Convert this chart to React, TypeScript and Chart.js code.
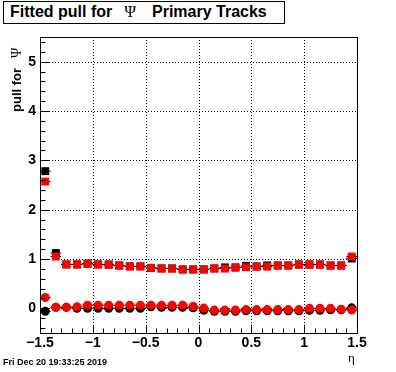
import React, { useEffect, useRef } from 'react';
import { Chart, registerables } from 'chart.js';

Chart.register(...registerables);

// eta bin centres (bin width 0.1)
const etaCenters = [
  -1.45, -1.35, -1.25, -1.15, -1.05, -0.95, -0.85, -0.75, -0.65, -0.55,
  -0.45, -0.35, -0.25, -0.15, -0.05, 0.05, 0.15, 0.25, 0.35, 0.45,
  0.55, 0.65, 0.75, 0.85, 0.95, 1.05, 1.15, 1.25, 1.35, 1.45,
];
const halfBin = 0.05;

// sigma of pull (squares)
const blackSigma = [
  2.78, 1.12, 0.89, 0.89, 0.91, 0.89, 0.89, 0.87, 0.85, 0.85,
  0.82, 0.81, 0.81, 0.79, 0.79, 0.79, 0.81, 0.83, 0.83, 0.86,
  0.85, 0.87, 0.87, 0.87, 0.89, 0.89, 0.89, 0.87, 0.87, 1.01,
];
const redSigma = [
  2.57, 1.05, 0.89, 0.89, 0.9, 0.89, 0.88, 0.865, 0.85, 0.85,
  0.82, 0.805, 0.805, 0.785, 0.785, 0.785, 0.805, 0.805, 0.825, 0.835,
  0.845, 0.845, 0.865, 0.865, 0.885, 0.885, 0.885, 0.865, 0.865, 1.05,
];
// mean of pull (circles)
const blackMean = [
  -0.06, 0.02, 0.02, 0.0, 0.0, 0.0, 0.0, 0.0, 0.0, 0.0,
  0.03, 0.02, 0.02, 0.02, 0.01, -0.04, -0.06, -0.06, -0.06, -0.05,
  -0.05, -0.05, -0.05, -0.05, -0.05, -0.04, -0.04, -0.03, -0.03, 0.01,
];
const redMean = [
  0.22, 0.02, 0.02, 0.03, 0.065, 0.065, 0.065, 0.065, 0.065, 0.065,
  0.065, 0.06, 0.06, 0.065, 0.04, 0.005, -0.035, -0.035, -0.035, -0.025,
  -0.025, -0.025, -0.025, -0.025, -0.025, 0.0, 0.0, 0.0, -0.02, -0.035,
];

const xTickValues = [-1.5, -1, -0.5, 0, 0.5, 1, 1.5];
const yTickValues = [0, 1, 2, 3, 4, 5];
const xGridValues = [-1, -0.5, 0, 0.5, 1];
const yGridValues = [0, 1, 2, 3, 4, 5];

const SANS = '"Liberation Sans", Arial, sans-serif';
const SERIF = '"Liberation Serif", "Times New Roman", serif';

function points(vals: number[]) {
  return etaCenters.map((x, i) => ({ x, y: vals[i] }));
}
function hbars(vals: number[]) {
  const out: { x: number; y: number | null }[] = [];
  etaCenters.forEach((x, i) => {
    out.push({ x: x - halfBin, y: vals[i] });
    out.push({ x: x + halfBin, y: vals[i] });
    out.push({ x, y: null });
  });
  return out;
}
function fmt(v: number) {
  const s = String(v);
  return s.startsWith('-') ? '\u2212' + s.slice(1) : s;
}

const rootFrame = {
  id: 'rootFrame',
  beforeDatasetsDraw(chart: any) {
    const { ctx, chartArea: a, scales } = chart;
    const x = scales.x, y = scales.y;
    ctx.save();
    ctx.strokeStyle = '#000';
    ctx.lineWidth = 1;
    ctx.setLineDash([1, 2]);
    ctx.beginPath();
    for (const v of xGridValues) {
      const px = Math.round(x.getPixelForValue(v)) + 0.5;
      ctx.moveTo(px, a.top);
      ctx.lineTo(px, a.bottom);
    }
    for (const v of yGridValues) {
      const py = Math.round(y.getPixelForValue(v)) + 0.5;
      ctx.moveTo(a.left, py);
      ctx.lineTo(a.right, py);
    }
    ctx.stroke();
    ctx.restore();
  },
  afterDatasetsDraw(chart: any) {
    const { ctx, chartArea: a, scales } = chart;
    const x = scales.x, y = scales.y;
    ctx.save();
    ctx.strokeStyle = '#000';
    ctx.lineWidth = 1;
    ctx.setLineDash([]);
    const L = Math.round(a.left) + 0.5, R = Math.round(a.right) + 0.5;
    const T = Math.round(a.top) + 0.5, B = Math.round(a.bottom) + 0.5;
    ctx.strokeRect(L, T, R - L, B - T);
    ctx.beginPath();
    for (let i = -2; i <= 27; i++) {
      const v = Math.round(i * 2) / 10;
      if (v <= -0.5 || v >= 5.5) continue;
      const py = Math.round(y.getPixelForValue(v)) + 0.5;
      const len = i % 5 === 0 ? 9 : 5;
      ctx.moveTo(L, py);
      ctx.lineTo(L + len, py);
    }
    for (let i = -15; i <= 15; i++) {
      const v = i / 10;
      const px = Math.round(x.getPixelForValue(v)) + 0.5;
      const len = i % 5 === 0 ? 9 : 5;
      ctx.moveTo(px, B);
      ctx.lineTo(px, B - len);
    }
    ctx.stroke();
    ctx.restore();
  },
};

export default function App() {
  const ref = useRef<HTMLCanvasElement | null>(null);
  useEffect(() => {
    if (!ref.current) return;
    const lineDs = (vals: number[], order: number) => ({
      type: 'line' as const,
      data: hbars(vals),
      borderColor: '#000',
      borderWidth: 1,
      pointRadius: 0,
      spanGaps: false,
      fill: false,
      order,
    });
    const markDs = (vals: number[], color: string, style: string, r: number, order: number) => ({
      type: 'scatter' as const,
      data: points(vals),
      backgroundColor: color,
      borderColor: color,
      borderWidth: 0,
      pointStyle: style,
      pointRadius: r,
      showLine: false,
      order,
    });
    const chart = new Chart(ref.current, {
      type: 'scatter',
      data: {
        datasets: [
          markDs(redSigma, '#ff0000', 'rect', 5.6, 0),
          markDs(redMean, '#ff0000', 'circle', 4.5, 1),
          lineDs(redSigma, 2),
          lineDs(redMean, 3),
          markDs(blackSigma, '#000000', 'rect', 5.6, 4),
          markDs(blackMean, '#000000', 'circle', 4.5, 5),
          lineDs(blackSigma, 6),
          lineDs(blackMean, 7),
        ] as any,
      },
      plugins: [rootFrame],
      options: {
        animation: false,
        responsive: false,
        events: [],
        layout: { padding: { top: 37, right: 39, left: 0, bottom: 0 } },
        plugins: { legend: { display: false }, tooltip: { enabled: false }, title: { display: false } },
        scales: {
          x: {
            type: 'linear',
            min: -1.5,
            max: 1.5,
            afterFit: (s: any) => { s.height = 39; },
            afterBuildTicks: (s: any) => { s.ticks = xTickValues.map((value) => ({ value })); },
            grid: { display: false, drawTicks: false },
            border: { display: false },
            ticks: {
              padding: 2,
              color: '#000',
              maxRotation: 0,
              autoSkip: false,
              font: { family: SANS, size: 14, weight: 'bold' },
              callback: (v: any) => fmt(Number(v)),
            },
          },
          y: {
            type: 'linear',
            min: -0.5,
            max: 5.5,
            afterFit: (s: any) => { s.width = 40; },
            afterBuildTicks: (s: any) => { s.ticks = yTickValues.map((value) => ({ value })); },
            grid: { display: false, drawTicks: false },
            border: { display: false },
            ticks: {
              padding: 4,
              color: '#000',
              autoSkip: false,
              font: { family: SANS, size: 14, weight: 'bold' },
              callback: (v: any) => fmt(Number(v)),
            },
          },
        },
      } as any,
    });
    return () => chart.destroy();
  }, []);

  return (
    <div style={{ position: 'absolute', left: 0, top: 0, width: 396, height: 372, background: '#fff', overflow: 'hidden' }}>
      <canvas ref={ref} width={396} height={372} style={{ position: 'absolute', left: 0, top: 0, width: 396, height: 372 }} />
      <div
        style={{
          position: 'absolute', left: 3, top: 1, width: 282, height: 23, boxSizing: 'border-box',
          border: '1px solid #000', background: '#fff', paddingLeft: 6, whiteSpace: 'nowrap',
          fontFamily: SANS, fontWeight: 'bold', fontSize: 16, lineHeight: '19px', color: '#000',
        }}
      >
        <span>Fitted pull for</span>
        <span style={{ fontFamily: SERIF, fontWeight: 'normal', marginLeft: 12 }}>Ψ</span>
        <span style={{ marginLeft: 16 }}>Primary Tracks</span>
      </div>
      <div
        style={{
          position: 'absolute', left: 7.5, top: 112, transform: 'rotate(-90deg)', transformOrigin: 'left top',
          whiteSpace: 'nowrap', lineHeight: '15px', color: '#000',
        }}
      >
        <span style={{ fontFamily: SANS, fontWeight: 'bold', fontSize: 13 }}>pull for</span>
        <span style={{ fontFamily: SERIF, fontSize: 14, marginLeft: 10 }}>Ψ</span>
      </div>
      <div style={{ position: 'absolute', left: 348, top: 351, fontFamily: SERIF, fontSize: 13, lineHeight: '13px', color: '#000' }}>
        η
      </div>
      <div style={{ position: 'absolute', left: 3, top: 356, fontFamily: SANS, fontWeight: 'bold', fontSize: 9, lineHeight: '12px', color: '#000', whiteSpace: 'nowrap' }}>
        Fri Dec 20 19:33:25 2019
      </div>
    </div>
  );
}
